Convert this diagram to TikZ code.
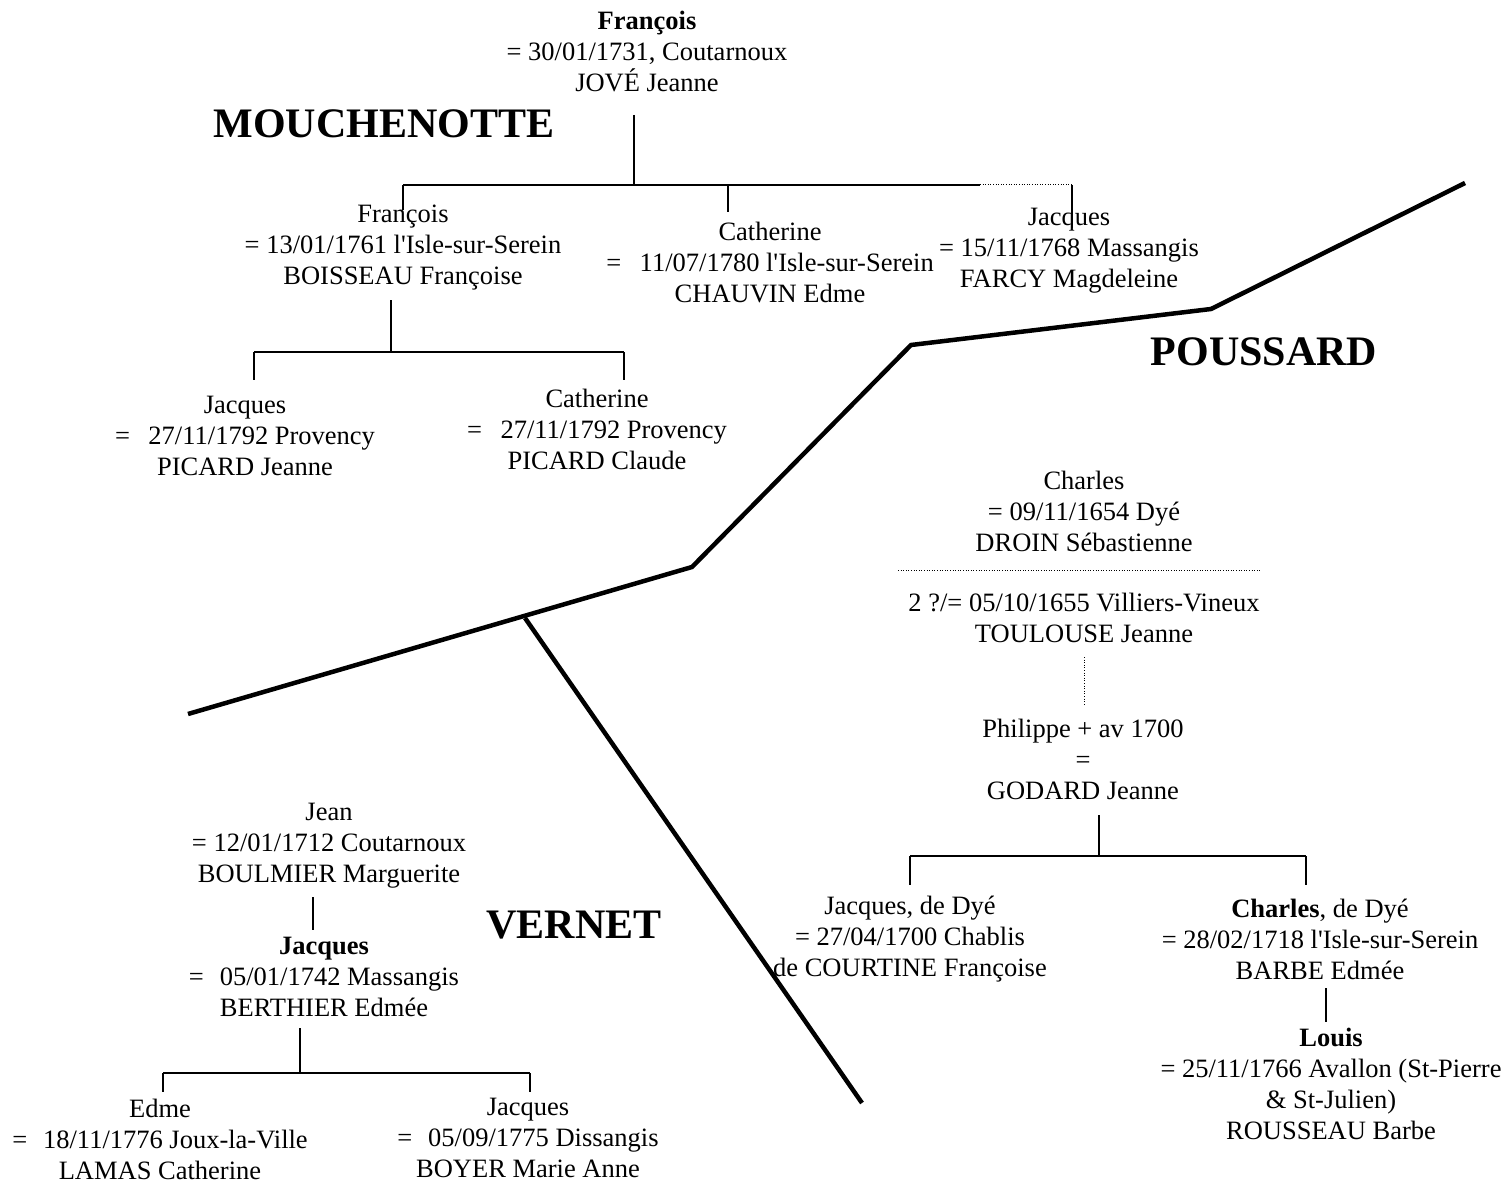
\documentclass[tikz,border=0pt]{standalone}
\usepackage{fontspec}
\setmainfont{Liberation Serif}
\newcommand{\sq}{\textquotesingle}
\begin{document}
\begin{tikzpicture}[x=1pt,y=-1pt,
  person/.style={inner sep=0pt,align=center,font=\fontsize{26.5}{31}\selectfont},
  family/.style={inner sep=0pt,font=\fontsize{42}{48}\selectfont\bfseries},
  link/.style={line width=1.2pt},
  dotlink/.style={line width=1pt,dash pattern=on 1pt off 1.6pt},
  border/.style={line width=4.5pt}]
\useasboundingbox (0,0) rectangle (1512,1182);
% ---------- MOUCHENOTTE ----------
\node[family] (mouch) at (384,124) {MOUCHENOTTE};
\node[person] (f0) at (647,52) {\textbf{François}\\= 30/01/1731, Coutarnoux\\JOVÉ Jeanne};
\node[person] (c1) at (403,248) {François\\= 13/01/1761 l\sq Isle-sur-Serein\\BOISSEAU Françoise};
\node[person] (c2) at (770,263) {Catherine\\=\hspace{0.7em}11/07/1780 l\sq Isle-sur-Serein\\CHAUVIN Edme};
\node[person] (c3) at (1069,251) {Jacques\\= 15/11/1768 Massangis\\FARCY Magdeleine};
\node[person] (g1) at (245,436) {Jacques\\=\hspace{0.7em}27/11/1792 Provency\\PICARD Jeanne};
\node[person] (g2) at (597,429) {Catherine\\=\hspace{0.7em}27/11/1792 Provency\\PICARD Claude};
\coordinate (j0t) at (634,115);
\coordinate (j0) at (634,185);
\coordinate (b1l) at (403,185);
\coordinate (b1m) at (728,185);
\coordinate (b1d) at (980,185);
\coordinate (b1r) at (1072,185);
\draw[link] (j0t) -- (j0);
\draw[link] (b1l) -- (b1d);
\draw[dotlink] (b1d) -- (b1r);
\draw[link] (b1l) -- ++(0,25);
\draw[link] (b1m) -- ++(0,27);
\draw[link] (b1r) -- ++(0,43);
\coordinate (j1t) at (391,300);
\coordinate (j1) at (391,352);
\coordinate (b2l) at (254,352);
\coordinate (b2r) at (624,352);
\draw[link] (j1t) -- (j1);
\draw[link] (b2l) -- (b2r);
\draw[link] (b2l) -- ++(0,28);
\draw[link] (b2r) -- ++(0,28);
% ---------- borders ----------
\coordinate (k1) at (188,714);
\coordinate (k2) at (692,567);
\coordinate (k3) at (911,345);
\coordinate (k4) at (1211,309);
\coordinate (k5) at (1465,183);
\coordinate (k6) at (525,618);
\coordinate (k7) at (862,1103);
\draw[border] (k1) -- (k2) -- (k3) -- (k4) -- (k5);
\draw[border] (k6) -- (k7);
% ---------- POUSSARD ----------
\node[family] (pouss) at (1264,352) {POUSSARD};
\node[person] (p0) at (1084,511) {Charles\\= 09/11/1654 Dyé\\DROIN Sébastienne};
\node[person] (p0b) at (1084,618) {2 ?/= 05/10/1655 Villiers-Vineux\\TOULOUSE Jeanne};
\node[person] (p1) at (1083,759) {Philippe + av 1700\\=\\GODARD Jeanne};
\node[person] (p2) at (910,939) {Jacques, de Dyé\\= 27/04/1700 Chablis\\de COURTINE Françoise};
\node[person] (p3) at (1320,939) {\textbf{Charles}, de Dyé\\= 28/02/1718 l\sq Isle-sur-Serein\\BARBE Edmée};
\node[person] (p4) at (1331,1084) {\textbf{Louis}\\= 25/11/1766 Avallon (St-Pierre\\\& St-Julien)\\ROUSSEAU Barbe};
\coordinate (d1l) at (898,570);
\coordinate (d1r) at (1262,570);
\draw[dotlink] (d1l) -- (d1r);
\coordinate (d2t) at (1084,657);
\coordinate (d2b) at (1084,705);
\draw[dotlink] (d2t) -- (d2b);
\coordinate (j3t) at (1099,815);
\coordinate (j3) at (1099,856);
\coordinate (b3l) at (910,856);
\coordinate (b3r) at (1306,856);
\draw[link] (j3t) -- (j3);
\draw[link] (b3l) -- (b3r);
\draw[link] (b3l) -- ++(0,29);
\draw[link] (b3r) -- ++(0,29);
\coordinate (j4t) at (1326,988);
\coordinate (j4b) at (1326,1022);
\draw[link] (j4t) -- (j4b);
% ---------- VERNET ----------
\node[family] (vernet) at (574,925) {VERNET};
\node[person] (v0) at (329,846) {Jean\\= 12/01/1712 Coutarnoux\\BOULMIER Marguerite};
\node[person] (v1) at (324,977) {\textbf{Jacques}\\=\hspace{0.6em}05/01/1742 Massangis\\BERTHIER Edmée};
\node[person] (v2) at (160,1139) {Edme\\=\hspace{0.6em}18/11/1776 Joux-la-Ville\\LAMAS Catherine};
\node[person] (v3) at (528,1138) {Jacques\\=\hspace{0.6em}05/09/1775 Dissangis\\BOYER Marie Anne};
\coordinate (j5t) at (313,897);
\coordinate (j5b) at (313,930);
\draw[link] (j5t) -- (j5b);
\coordinate (j6t) at (300,1028);
\coordinate (j6) at (300,1073);
\coordinate (b6l) at (163,1073);
\coordinate (b6r) at (530,1073);
\draw[link] (j6t) -- (j6);
\draw[link] (b6l) -- (b6r);
\draw[link] (b6l) -- ++(0,19);
\draw[link] (b6r) -- ++(0,19);
\end{tikzpicture}
\end{document}
